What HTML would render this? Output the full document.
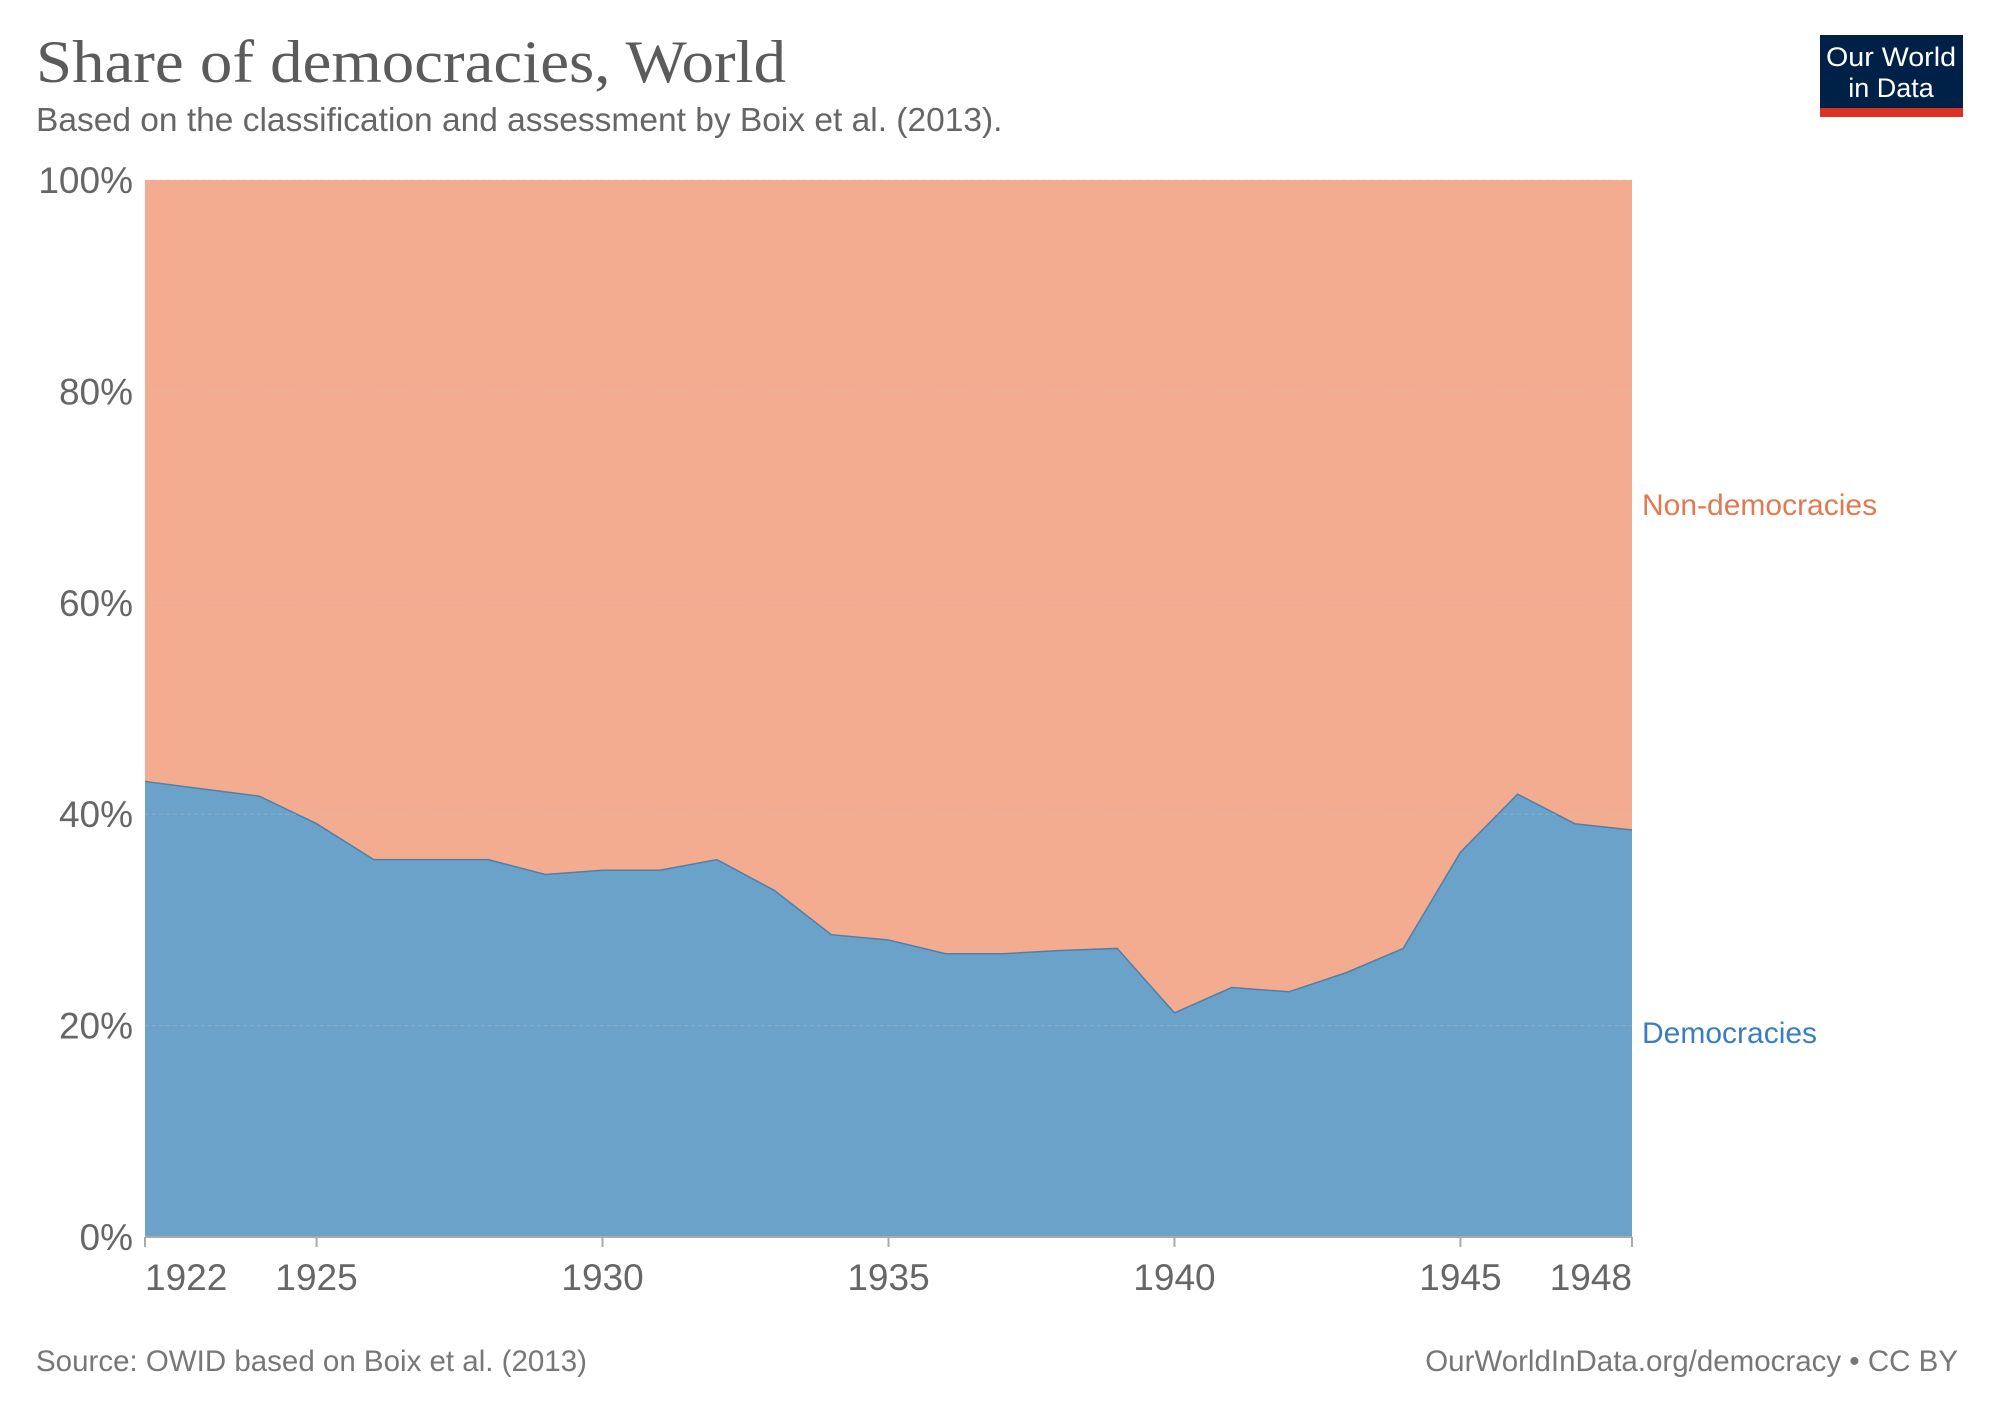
<!DOCTYPE html>
<html><head><meta charset="utf-8"><style>
body{margin:0;background:#fff;width:1999px;height:1412px;overflow:hidden}
svg{display:block;font-family:"Liberation Sans",sans-serif}
</style></head><body>
<svg id="chart" width="1999" height="1412">
<text x="36" y="82" font-family="Liberation Serif,serif" font-size="60" fill="#5b5b5b" textLength="750" lengthAdjust="spacingAndGlyphs">Share of democracies, World</text>
<text x="36" y="131" font-size="33.5" fill="#666">Based on the classification and assessment by Boix et al. (2013).</text>
<g>
<rect x="1820" y="35" width="143" height="82" fill="#002147"/>
<rect x="1820" y="108" width="143" height="9" fill="#dc3224"/>
<text x="1891" y="66" font-size="27" fill="#fff" text-anchor="middle" textLength="130" lengthAdjust="spacingAndGlyphs">Our World</text>
<text x="1891" y="97" font-size="27" fill="#fff" text-anchor="middle">in Data</text>
</g>
<g id="plot"></g>
<text x="36" y="1371" font-size="29.5" fill="#777">Source: OWID based on Boix et al. (2013)</text>
<text x="1958" y="1371" font-size="29.5" fill="#777" text-anchor="end">OurWorldInData.org/democracy • CC BY</text>
</svg>
<script>
const years=[1922,1923,1924,1925,1926,1927,1928,1929,1930,1931,1932,1933,1934,1935,1936,1937,1938,1939,1940,1941,1942,1943,1944,1945,1946,1947,1948];
const democracies=[43.1,42.4,41.7,39.1,35.7,35.7,35.7,34.3,34.7,34.7,35.7,32.8,28.6,28.1,26.8,26.8,27.1,27.3,21.2,23.6,23.2,25.0,27.3,36.4,41.9,39.1,38.5];
const yTicks=[0,20,40,60,80,100];
const xTicks=[1922,1925,1930,1935,1940,1945,1948];
const PL=145,PR=1632,PT=180,PB=1237;
const xs=y=>PL+(y-years[0])/(years[years.length-1]-years[0])*(PR-PL);
const ys=v=>PB-v/100*(PB-PT);
const NS="http://www.w3.org/2000/svg";
const g=document.getElementById('plot');
function mk(tag,attrs,parent){const e=document.createElementNS(NS,tag);for(const k in attrs)e.setAttribute(k,attrs[k]);(parent||g).appendChild(e);return e;}
const topEdge=`M${xs(years[0])},${ys(100)} L${xs(years[years.length-1])},${ys(100)} `;
const demLine=years.map((y,i)=>`${xs(y)},${ys(democracies[i])}`);
const nd=mk('path',{d:topEdge+'L'+demLine.slice().reverse().join(' L')+' Z',fill:'#f3ac90'});


const dm=mk('path',{d:'M'+demLine.join(' L')+` L${xs(years[years.length-1])},${PB} L${xs(years[0])},${PB} Z`,fill:'#6aa2ca'});


const dl=mk('path',{d:'M'+demLine.join(' L'),fill:'none',stroke:'#4f80a8','stroke-width':1.5});


yTicks.forEach(t=>{
  if(t>0){const gl=mk('line',{x1:PL,x2:PR,y1:ys(t),y2:ys(t),stroke:'#c8c8c8','stroke-opacity':0.35,'stroke-dasharray':'4,3'});
  
  }
  const tx=mk('text',{x:133,y:ys(t)+13,'font-size':37,fill:'#666','text-anchor':'end'});
  tx.textContent=t+'%';
  
  
});
const ax=mk('line',{x1:PL,x2:PR,y1:PB,y2:PB,stroke:'#aaa','stroke-width':2});


xTicks.forEach((t,i)=>{
  const tk=mk('line',{x1:xs(t),x2:xs(t),y1:PB,y2:PB+10,stroke:'#aaa','stroke-width':2});
  
  
  const anchor=i==0?'start':(i==xTicks.length-1?'end':'middle');
  const tx=mk('text',{x:xs(t),y:1290,'font-size':37,fill:'#666','text-anchor':anchor});
  tx.textContent=t;
  
  
});
const l1=mk('text',{x:1642,y:515,'font-size':30,fill:'#e07a52'});
l1.textContent='Non-democracies';


const l2=mk('text',{x:1642,y:1043,'font-size':30,fill:'#3a7fbd'});
l2.textContent='Democracies';


</script>
</body></html>
